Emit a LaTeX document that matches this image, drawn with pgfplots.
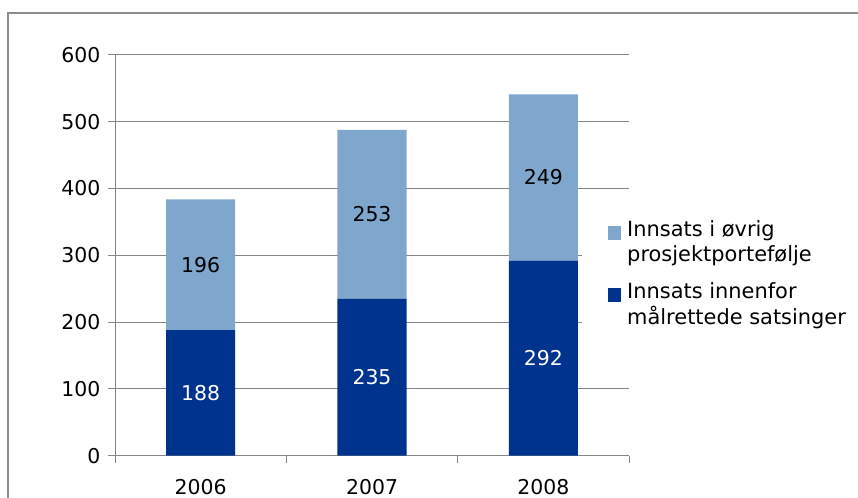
\documentclass[border=0pt]{standalone}
\usepackage{fontspec}
\setmainfont{DejaVu Sans}
\usepackage{pgfplots}
\usepackage{pgfplotstable}
\pgfplotsset{compat=1.18}

\definecolor{darkbar}{RGB}{0,51,141}
\definecolor{lightbar}{RGB}{127,166,205}
\definecolor{gridgray}{RGB}{134,134,134}
\definecolor{framegray}{RGB}{140,140,140}

% Innsats innenfor malrettede satsinger
\pgfplotstableread{
x v
0 188
1 235
2 292
}\innenfor
% Innsats i ovrig prosjektportefolje
\pgfplotstableread{
x v
0 196
1 253
2 249
}\ovrig

\begin{document}
\begin{tikzpicture}
\useasboundingbox (0,0) rectangle (858bp,498bp);
\draw[framegray, line width=1.3bp] (8bp,0) -- (8bp,485bp) -- (860bp,485bp);
\begin{axis}[
  at={(115bp,42.3bp)}, anchor=south west,
  scale only axis,
  width=514bp, height=400.7bp,
  ybar stacked,
  bar width=0.403,
  xmin=-0.5, xmax=2.5,
  ymin=0, ymax=600,
  ytick={0,100,...,600},
  xtick={-0.5,0.5,1.5,2.5},
  xticklabels={2006,2007,2008,},
  xticklabel style={xshift=85.7bp, yshift=-13bp},
  yticklabel style={xshift=-4bp},
  axis lines*=left,
  axis line style={gridgray, line width=1bp},
  tick style={gridgray, line width=1bp},
  tick align=outside,
  major tick length=7bp,
  ymajorgrids=true,
  grid style={gridgray, line width=1bp},
  /pgf/number format/assume math mode=true,
  tick label style={font=\fontsize{20.5}{24}\selectfont, black},
  nodes near coords,
  point meta=explicit,
  nodes near coords style={font=\fontsize{20.5}{24}\selectfont, anchor=center},
  reverse legend,
  legend style={at={(0.9086,0.6082)}, anchor=north west, draw=none, fill=white,
    font=\fontsize{21}{26}\selectfont, inner xsep=26bp, inner ysep=6bp,
    cells={anchor=west, align=left}, row sep=15bp,
    column sep=4bp},
  legend image code/.code={\fill[#1] (0bp,2bp) rectangle (13bp,16bp);},
]
\addplot[fill=darkbar, draw=none, nodes near coords style={white}]
  table[x=x, y=v, meta=v]{\innenfor};
\addlegendentry{Innsats innenfor\\målrettede satsinger}
\addplot[fill=lightbar, draw=none, nodes near coords style={black}]
  table[x=x, y=v, meta=v]{\ovrig};
\addlegendentry{Innsats i øvrig\\prosjektportefølje}
\end{axis}
\end{tikzpicture}
\end{document}
